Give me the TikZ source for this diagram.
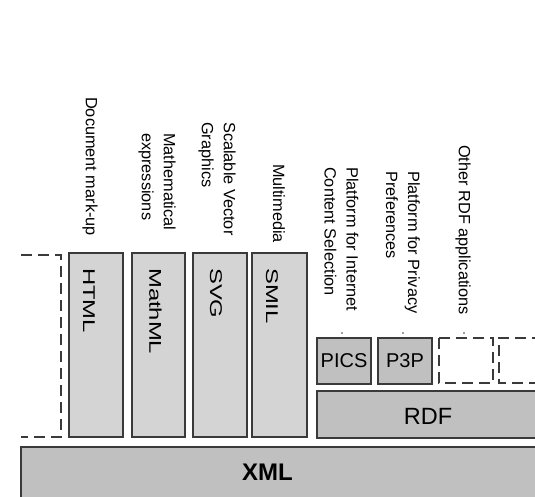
\documentclass[tikz,border=0pt]{standalone}
\usepackage{fontspec}
\setmainfont{Liberation Sans}
\definecolor{lightbox}{HTML}{D4D4D4}
\definecolor{midbox}{HTML}{C0C0C0}
\definecolor{edge}{HTML}{3A3A3A}
\begin{document}
\begin{tikzpicture}[x=1pt,y=-1pt,
  solidbox/.style={draw=edge,line width=1.2pt},
  dashbox/.style={draw=edge,line width=1.2pt,dash pattern=on 11pt off 6pt},
  toplabel/.style={rotate=-90,anchor=west,inner sep=0pt,align=left,
    font=\fontsize{16.3}{22}\selectfont},
  boxlabel/.style={rotate=-90,anchor=west,inner sep=0pt,
    font=\fontsize{17}{20}\selectfont},
  smalllabel/.style={inner sep=0pt,font=\fontsize{20}{24}\selectfont}]
\useasboundingbox (0,0) rectangle (535,497);
% XML base
\draw[solidbox,fill=midbox] (21,447) rectangle (560,520);
\node[inner sep=0pt,font=\fontsize{24}{28}\selectfont\bfseries] (xml) at (267.5,472.5) {XML};
% RDF
\draw[solidbox,fill=midbox] (317,391) rectangle (560,438);
\node[inner sep=0pt,font=\fontsize{23.5}{28}\selectfont] (rdf) at (428,416) {RDF};
% left dashed box
\draw[dashbox] (21,255) -- (61,255) -- (61,437) -- (21,437);
% vertical boxes
\draw[solidbox,fill=lightbox] (69,253) rectangle (123,437);
\draw[solidbox,fill=lightbox] (132,253) rectangle (185,437);
\draw[solidbox,fill=lightbox] (193,253) rectangle (247,437);
\draw[solidbox,fill=lightbox] (252,253) rectangle (307,437);
\node[boxlabel] (html) at (89,268) {\scalebox{1.4}[1]{HTML}};
\node[boxlabel] (mathml) at (155.5,268) {\scalebox{1.4}[1]{MathML}};
\node[boxlabel] (svg) at (216,268) {\scalebox{1.4}[1]{SVG}};
\node[boxlabel] (smil) at (272,268) {\scalebox{1.4}[1]{SMIL}};
% RDF applications
\draw[solidbox,fill=midbox] (317,338) rectangle (371,384);
\draw[solidbox,fill=midbox] (378,338) rectangle (432,384);
\node[smalllabel] (pics) at (344,361) {PICS};
\node[smalllabel] (p3p) at (405,361) {P3P};
\draw[dashbox] (439,338) rectangle (493,383);
\draw[dashbox] (560,338) -- (499,338) -- (499,383) -- (560,383);
% dots
\fill[edge] (342,333) circle (0.8);
\fill[edge] (403,333) circle (0.8);
\fill[edge] (464,333) circle (0.8);
% top labels
\node[toplabel] (ldoc) at (90,97) {Document mark-up};
\node[toplabel] (lmath) at (157,133) {Mathematical\\expressions};
\node[toplabel] (lsvg) at (217,122) {Scalable Vector\\Graphics};
\node[toplabel] (lsmil) at (279,164) {Multimedia};
\node[toplabel] (lpics) at (341.5,167) {Platform for Internet\\Content Selection};
\node[toplabel] (lp3p) at (403,171) {Platform for Privacy\\Preferences};
\node[toplabel] (lother) at (463,145) {Other RDF applications};
\end{tikzpicture}
\end{document}
